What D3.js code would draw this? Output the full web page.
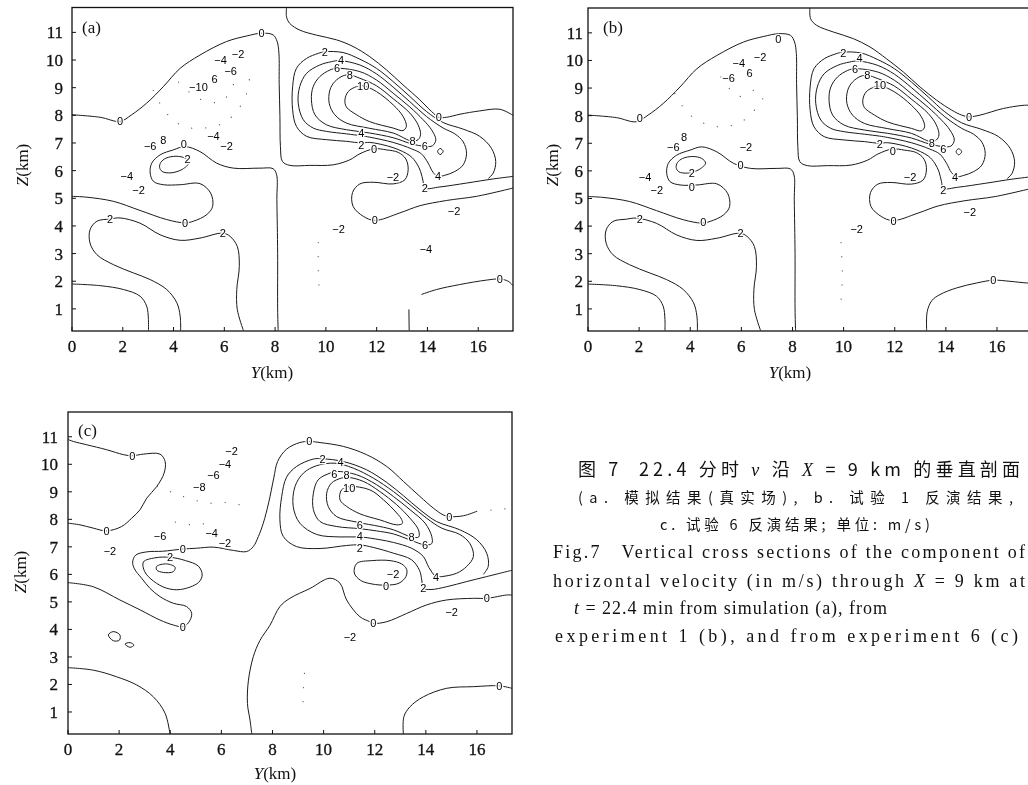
<!DOCTYPE html>
<html>
<head>
<meta charset="utf-8">
<script src="https://cdn.jsdelivr.net/npm/d3@7"></script>
<style>
  body { margin: 0; background: #fff; }
  svg { display: block; will-change: transform; }
  .tick { font-family: "Liberation Serif", serif; font-size: 17px; fill: #111; stroke: #111; stroke-width: 0.3; }
  .ttl { font-family: "Liberation Serif", serif; font-size: 17px; fill: #111; }
  .clab { font-family: "Liberation Sans Narrow", "Liberation Sans", sans-serif; font-size: 11px; fill: #000; }
</style>
</head>
<body>
<svg id="fig" width="1028" height="785"></svg>
<script>
// axes (km)
var yDomain = [0, 17.37];
var zDomain = [0.2, 11.9];
var yTicks = [0, 2, 4, 6, 8, 10, 12, 14, 16];
var zTicks = [1, 2, 3, 4, 5, 6, 7, 8, 9, 10, 11];

// ---- panel (a): contour lines as [Y, Z] in km ----
var a0left = [[0,8.02],[1.11,7.93],[1.89,7.78],[2.35,8.02],[2.94,8.44],[3.6,9.04],[4.26,9.7],[5.04,10.18],[6.09,10.67],[6.88,10.87],[7.47,10.97],[7.92,10.91],[8.08,10.67],[8.15,10.25],[8.16,9.16],[8.19,7.96],[8.21,6.87],[8.29,6.33],[8.58,6.19],[9.37,6.19],[10.29,6.21],[10.94,6.39],[11.34,6.61],[11.9,6.79],[12.39,6.75],[12.85,6.66],[13.15,6.42],[13.24,6.03],[13.11,5.67],[12.65,5.52],[11.86,5.58],[11.34,5.52],[11.05,5.21],[11.07,4.71],[11.47,4.35],[11.93,4.2],[12.91,4.47],[13.7,4.73],[14.75,4.92],[15.93,5.07],[17.37,5.37]];
var a0top = [[8.45,11.9],[8.45,11.56],[8.58,11.32],[8.98,11.08],[9.63,10.9],[10.42,10.73],[11.07,10.49],[11.73,10.12],[12.39,9.64],[13.04,9.1],[13.7,8.56],[14.16,8.14],[14.45,7.93],[14.75,7.93],[15.28,8.04],[16.06,8.16],[16.85,8.22],[17.37,8.0]];
var a0blob = [[0,5.07],[0.58,5.04],[1.63,4.89],[2.68,4.56],[3.73,4.23],[4.45,4.11],[4.78,4.17],[5.31,4.41],[5.54,4.71],[5.46,5.19],[5.04,5.53],[4.26,5.49],[3.6,5.49],[3.21,5.61],[3.08,5.91],[3.14,6.27],[3.47,6.57],[3.99,6.75],[4.45,6.87],[5.04,6.69],[5.7,6.27],[6.36,6.09],[7.4,6.09],[7.92,6.07],[8.06,5.85],[8.07,4.95],[8.1,3.0],[8.1,1.0],[8.12,0.22]];
var a2core = [[17.37,5.79],[16.59,5.7],[15.54,5.55],[14.49,5.41],[13.9,5.37],[13.83,5.61],[13.73,5.97],[13.57,6.27],[13.31,6.54],[12.65,6.83],[11.73,7.02],[11.4,7.0],[10.81,7.06],[10.02,7.12],[9.24,7.24],[8.84,7.6],[8.69,8.2],[8.69,9.04],[8.84,9.7],[9.24,10.06],[9.7,10.24],[9.96,10.3],[10.68,10.27],[11.34,10.03],[11.99,9.7],[12.65,9.22],[13.31,8.68],[13.96,8.14],[14.62,7.74],[15.41,7.5],[16.06,7.24],[16.52,6.81],[16.69,6.33],[16.59,5.91],[16.4,5.72]];
var a4core = [[10.55,9.98],[11.34,9.82],[11.99,9.5],[12.65,9.02],[13.31,8.49],[13.96,7.96],[14.62,7.54],[15.08,7.33],[15.41,7.04],[15.54,6.63],[15.41,6.21],[15.08,5.97],[14.68,5.83],[14.42,5.79],[14.22,5.94],[14.03,6.27],[13.76,6.61],[13.37,6.79],[12.65,7.02],[11.73,7.21],[11.4,7.26],[10.81,7.33],[10.02,7.42],[9.5,7.54],[9.11,7.84],[8.91,8.44],[8.97,9.04],[9.24,9.52],[9.76,9.82],[10.22,9.94]];
var a6core = [[10.44,9.7],[11.34,9.58],[11.99,9.28],[12.65,8.8],[13.31,8.3],[13.83,7.84],[14.16,7.48],[14.33,7.12],[14.2,6.9],[13.9,6.88],[13.37,6.97],[12.65,7.19],[11.73,7.36],[10.81,7.48],[10.02,7.66],[9.57,8.02],[9.43,8.56],[9.5,9.04],[9.76,9.4],[10.16,9.64]];
var a8core = [[10.68,9.43],[10.94,9.46],[11.34,9.34],[11.99,9.07],[12.65,8.6],[13.31,8.08],[13.63,7.66],[13.73,7.3],[13.63,7.12],[13.41,7.06],[12.65,7.36],[11.73,7.53],[10.81,7.72],[10.35,8.02],[10.13,8.44],[10.16,8.92],[10.35,9.22]];
var a10core = [[11.21,9.04],[11.47,9.07],[11.99,8.86],[12.65,8.38],[13.04,7.96],[13.17,7.6],[13.04,7.45],[12.65,7.54],[11.73,7.77],[11.21,8.02],[10.81,8.3],[10.75,8.56],[10.88,8.86]];
var a6spot = [[14.4,6.7],[14.5,6.8],[14.62,6.7],[14.5,6.58]];
var a2blob = [[3.5,6.3],[3.7,6.45],[4.1,6.52],[4.45,6.45],[4.6,6.28],[4.35,6.05],[3.9,5.92],[3.55,5.97],[3.45,6.12]];
var a2low = [[4.28,0.22],[4.26,0.74],[4.13,1.22],[3.73,1.7],[3.08,2.06],[2.42,2.3],[1.63,2.6],[0.98,2.96],[0.71,3.38],[0.71,3.86],[0.98,4.17],[1.5,4.25],[1.89,4.29],[2.68,4.1],[3.47,3.68],[4.26,3.48],[5.04,3.56],[5.94,3.74],[6.23,3.62],[6.51,3.26],[6.59,2.54],[6.49,1.7],[6.51,0.98],[6.75,0.22]];
var a4low = [[0,1.9],[1.11,1.84],[2.03,1.7],[2.68,1.46],[2.94,1.1],[3.01,0.62],[3.01,0.22]];
var a0right = [[13.76,1.52],[14.36,1.7],[15.27,1.88],[16.32,2.04],[16.85,2.08],[17.18,2.0],[17.37,1.84]];
var a0stub = [[13.27,0.98],[13.28,0.22]];
var aDots = [
  [[3.2,8.9],[3.7,8.1],[4.4,7.6],[5.3,7.55],[6.1,7.8],[6.8,8.6],[7.0,9.4]],
  [[4.2,9.2],[5.0,8.6],[5.9,8.5],[6.4,9.2]],
  [[9.7,3.4],[9.7,2.4],[9.75,1.5]]
];
var aLabels = [
  [1.89,7.78,"0"],[7.47,10.97,"0"],[14.45,7.93,"0"],[11.9,6.79,"0"],[11.93,4.2,"0"],[4.45,4.11,"0"],[16.85,2.08,"0"],[4.4,6.95,"0"],
  [1.5,4.25,"2"],[5.94,3.74,"2"],[4.55,6.42,"2"],[9.96,10.3,"2"],[11.4,6.92,"2"],[13.9,5.37,"2"],
  [10.6,10.0,"4"],[11.4,7.37,"4"],[14.42,5.79,"4"],
  [10.44,9.7,"6"],[13.9,6.88,"6"],
  [10.94,9.46,"8"],[13.41,7.06,"8"],
  [11.47,9.07,"10"],
  [6.54,10.2,"−2"],[5.85,10.0,"−4"],[6.25,9.62,"−6"],[5.62,9.3,"6"],[4.98,9.02,"−10"],
  [3.08,6.88,"−6"],[3.6,7.12,"8"],[5.57,7.24,"−4"],[6.09,6.88,"−2"],
  [2.16,5.82,"−4"],[2.62,5.31,"−2"],[12.64,5.78,"−2"],[10.5,3.88,"−2"],[13.94,3.18,"−4"],[15.05,4.55,"−2"]
];

// ---- panel (b) ----
var b0top = [[8.68,11.9],[8.71,11.51],[8.95,11.27],[9.6,11.03],[10.38,10.79],[11.03,10.49],[11.68,10.06],[12.34,9.58],[12.99,9.04],[13.64,8.56],[14.23,8.2],[14.62,8.02],[14.91,7.96],[15.34,8.02],[16.25,8.26],[17.16,8.38],[17.37,8.35]];
var b0right = [[13.25,0.22],[13.27,0.9],[13.45,1.3],[13.77,1.52],[14.42,1.76],[15.21,1.94],[15.86,2.04],[16.51,2.0],[17.16,1.94],[17.37,1.94]];
var bDots = [
  [[3.4,8.8],[3.9,8.1],[4.6,7.7],[5.4,7.6],[6.2,7.9],[6.9,8.7]],
  [[5.2,9.4],[5.9,8.7],[6.6,9.0]],
  [[9.9,3.4],[9.95,2.2],[9.9,1.3]]
];
var bLabels = [
  [2.03,7.9,"0"],[7.45,10.79,"0"],[14.91,7.96,"0"],[11.92,6.73,"0"],[11.95,4.2,"0"],[4.51,4.13,"0"],[15.86,2.04,"0"],[5.97,6.21,"0"],[4.06,5.42,"0"],
  [2.03,4.25,"2"],[5.97,3.74,"2"],[4.06,5.93,"2"],[9.99,10.26,"2"],[11.42,6.97,"2"],[13.9,5.31,"2"],
  [10.62,10.07,"4"],[14.36,5.79,"4"],
  [10.45,9.68,"6"],[13.9,6.79,"6"],
  [10.93,9.48,"8"],[13.45,7.02,"8"],
  [11.42,9.1,"10"],
  [6.73,10.12,"−2"],[5.9,9.92,"−4"],[6.32,9.54,"6"],[5.5,9.35,"−6"],
  [3.34,6.88,"−6"],[3.76,7.21,"8"],[6.18,6.88,"−2"],
  [2.23,5.77,"−4"],[2.69,5.29,"−2"],[12.6,5.76,"−2"],[10.51,3.89,"−2"],[14.94,4.5,"−2"]
];

// ---- panel (c) ----
var c0upper = [[0,10.9],[0.21,10.83],[0.73,10.71],[1.51,10.53],[2.17,10.35],[2.52,10.31],[2.95,10.37],[3.6,10.37],[3.8,10.1],[3.76,9.68],[3.47,9.19],[3.08,8.77],[2.82,8.35],[2.49,8.04],[2.1,7.74],[1.51,7.58],[0.99,7.68],[0.47,7.8],[0,7.86]];
var c0main = [[0,5.7],[0.99,5.55],[2.03,5.07],[2.82,4.71],[3.6,4.34],[4.12,4.16],[4.49,4.1],[4.71,4.24],[4.84,4.58],[4.64,4.83],[4.12,4.95],[3.6,5.19],[3.21,5.49],[2.88,5.86],[2.6,6.2],[2.53,6.45],[2.65,6.7],[3.1,6.82],[3.7,6.84],[4.49,6.92],[5.03,6.95],[5.69,6.99],[6.47,6.87],[6.99,6.83],[7.25,7.01],[7.45,7.38],[7.64,7.86],[7.85,8.6],[8.05,9.5],[8.2,10.1],[8.55,10.55],[9.07,10.79],[9.44,10.83],[9.86,10.79],[10.77,10.65],[11.68,10.35],[12.47,9.92],[13.12,9.38],[13.77,8.83],[14.29,8.41],[14.68,8.16],[14.92,8.1],[15.47,8.13],[15.99,8.29]];
var c0low = [[7.19,0.2],[7.12,0.71],[7.02,1.31],[7.06,2.16],[7.25,3.01],[7.51,3.6],[7.9,4.15],[8.29,4.83],[8.68,5.13],[9.47,5.49],[10.25,5.86],[10.64,5.68],[10.9,5.07],[11.42,4.46],[11.81,4.28],[11.94,4.22],[12.47,4.28],[13.25,4.58],[14.03,4.89],[14.81,5.07],[15.86,5.13],[16.38,5.13],[17.16,5.25],[17.37,5.25]];
var c0pocket = [[11.3,6.4],[11.2,6.05],[11.45,5.78],[11.9,5.65],[12.44,5.61],[12.95,5.68],[13.22,5.92],[13.25,6.18],[13.05,6.38],[12.6,6.5],[11.9,6.5]];
var c2core = [[17.37,6.15],[16.38,5.92],[15.6,5.74],[14.81,5.55],[14.2,5.45],[13.9,5.5],[13.84,5.8],[13.75,6.15],[13.44,6.53],[12.73,6.77],[11.94,6.98],[11.42,7.07],[10.9,7.05],[9.86,6.94],[8.94,7.01],[8.42,7.38],[8.29,7.98],[8.36,8.83],[8.55,9.53],[8.94,9.92],[9.6,10.19],[9.96,10.2],[10.77,10.1],[11.68,9.8],[12.47,9.34],[13.12,8.86],[13.77,8.35],[14.42,7.92],[15.33,7.62],[15.99,7.26],[16.38,6.77],[16.44,6.29],[16.25,6.0]];
var c4core = [[10.44,10.04],[11.16,9.86],[11.94,9.5],[12.73,9.01],[13.38,8.53],[14.03,8.04],[14.62,7.68],[15.33,7.45],[15.73,7.11],[15.86,6.65],[15.6,6.29],[15.2,6.04],[14.62,5.92],[14.4,5.92],[14.12,6.25],[13.9,6.65],[13.44,6.95],[12.73,7.16],[12.2,7.26],[11.42,7.36],[10.64,7.36],[9.73,7.45],[9.07,7.86],[8.81,8.47],[8.88,9.19],[9.21,9.68],[9.73,9.95]];
var c6core = [[10.48,9.74],[11.29,9.62],[12.07,9.26],[12.73,8.83],[13.38,8.35],[13.97,7.86],[14.23,7.38],[14.23,7.12],[13.97,7.07],[13.44,7.23],[12.73,7.47],[12.07,7.58],[11.42,7.66],[10.51,7.74],[9.86,7.92],[9.6,8.35],[9.6,8.95],[9.79,9.44],[10.25,9.68]];
var c8core = [[10.93,9.53],[11.55,9.38],[12.2,9.01],[12.86,8.53],[13.38,8.04],[13.71,7.62],[13.72,7.36],[13.44,7.36],[12.73,7.62],[12.2,7.74],[11.29,7.9],[10.51,8.1],[10.18,8.47],[10.12,8.95],[10.31,9.32],[10.7,9.5]];
var c10core = [[11.0,9.19],[11.81,9.07],[12.34,8.71],[12.86,8.23],[13.05,8.0],[13.08,7.85],[12.86,7.8],[12.2,7.98],[11.42,8.2],[10.9,8.47],[10.64,8.71],[10.7,9.07]];
var c2blob = [[2.95,6.45],[3.4,6.6],[4.0,6.62],[4.6,6.5],[5.1,6.3],[5.25,5.98],[5.1,5.7],[4.4,5.45],[3.85,5.5],[3.35,5.75],[3.0,6.1]];
var c4blob = [[3.47,6.29],[3.86,6.38],[4.19,6.26],[4.12,6.1],[3.73,6.07],[3.47,6.16]];
var cRing1 = [[1.58,3.8],[1.77,3.92],[2.03,3.8],[2.01,3.61],[1.77,3.59]];
var cRing2 = [[2.23,3.47],[2.43,3.52],[2.58,3.43],[2.43,3.35]];
var c2low = [[0,2.61],[0.99,2.52],[1.9,2.28],[2.69,1.98],[3.34,1.55],[3.8,0.95],[3.99,0.2]];
var c0right = [[13.12,0.2],[13.14,0.83],[13.38,1.19],[13.9,1.55],[14.81,1.86],[15.86,1.92],[16.87,1.95],[17.37,1.86]];
var cDots = [
  [[15.99,8.29],[16.7,8.35],[17.37,8.4]],
  [[9.25,2.4],[9.2,1.6],[9.2,0.95]],
  [[3.5,9.2],[4.3,8.9],[5.4,8.6],[6.4,8.6],[7.1,8.4]],
  [[4.2,7.9],[4.9,7.8],[5.7,7.9]]
];
var cLabels = [
  [2.52,10.31,"0"],[1.51,7.58,"0"],[4.49,6.92,"0"],[4.49,4.1,"0"],[9.44,10.83,"0"],[14.92,8.1,"0"],[12.44,5.57,"0"],[11.94,4.22,"0"],[16.38,5.13,"0"],[16.87,1.95,"0"],
  [9.96,10.2,"2"],[11.42,6.97,"2"],[13.9,5.5,"2"],[3.99,6.62,"2"],
  [10.66,10.07,"4"],[11.42,7.38,"4"],[14.4,5.9,"4"],
  [10.42,9.65,"6"],[11.42,7.79,"6"],[13.97,7.07,"6"],
  [10.9,9.6,"8"],[13.44,7.34,"8"],
  [11.0,9.12,"10"],
  [6.4,10.49,"−2"],[6.14,7.13,"−2"],[1.64,6.86,"−2"],[12.72,6.03,"−2"],[15.01,4.64,"−2"],[11.03,3.74,"−2"],
  [6.14,10.02,"−4"],[5.62,7.5,"−4"],[5.69,9.62,"−6"],[3.6,7.38,"−6"],[5.14,9.19,"−8"]
];

var aLines = [
  {p: a0left}, {p: a0top}, {p: a0blob}, {p: a2core}, {p: a4core, closed: true}, {p: a6core, closed: true},
  {p: a8core, closed: true}, {p: a10core, closed: true}, {p: a6spot, closed: true}, {p: a2blob, closed: true},
  {p: a2low}, {p: a4low}, {p: a0right}, {p: a0stub}
];
var bLines = [
  {p: a0left}, {p: b0top}, {p: a0blob}, {p: a2core}, {p: a4core, closed: true}, {p: a6core, closed: true},
  {p: a8core, closed: true}, {p: a10core, closed: true}, {p: a6spot, closed: true}, {p: a2blob, closed: true},
  {p: a2low}, {p: a4low}, {p: b0right}
];
var cLines = [
  {p: c0upper}, {p: c0main}, {p: c0low}, {p: c0pocket, closed: true}, {p: c2core}, {p: c4core, closed: true},
  {p: c6core, closed: true}, {p: c8core, closed: true}, {p: c10core, closed: true}, {p: c2blob, closed: true},
  {p: c4blob, closed: true}, {p: cRing1, closed: true}, {p: cRing2, closed: true}, {p: c2low}, {p: c0right}
];

// layout of the three frames on the page
var panels = [
  {key: "a", tag: "(a)", lines: aLines, labels: aLabels, dots: aDots, left: 72, right: 513, top: 7.5, bottom: 331, zgap: 9, tagX: 82, tagY: 33, yLabX: 272, yLabY: 378, zLabX: 22, zLabY: 165},
  {key: "b", tag: "(b)", lines: bLines, labels: bLabels, dots: bDots, left: 588, right: 1032, top: 8, bottom: 331, zgap: 5, tagX: 603, tagY: 33, yLabX: 790, yLabY: 378, zLabX: 552, zLabY: 165},
  {key: "c", tag: "(c)", lines: cLines, labels: cLabels, dots: cDots, left: 68, right: 512, top: 412, bottom: 734, zgap: 10, tagX: 78, tagY: 436, yLabX: 275, yLabY: 779, zLabX: 20, zLabY: 572}
];

var svg = d3.select("#fig");
var defs = svg.append("defs");

panels.forEach(function (P) {
  var x = d3.scaleLinear().domain(yDomain).range([P.left, P.right]);
  var z = d3.scaleLinear().domain(zDomain).range([P.bottom, P.top]);

  defs.append("clipPath").attr("id", "clip-" + P.key)
    .append("rect")
    .attr("x", P.left).attr("y", P.top)
    .attr("width", P.right - P.left).attr("height", P.bottom - P.top);

  var g = svg.append("g");
  var body = g.append("g").attr("clip-path", "url(#clip-" + P.key + ")");

  var openLine = d3.line().x(function (d) { return x(d[0]); }).y(function (d) { return z(d[1]); })
    .curve(d3.curveCatmullRom.alpha(0.5));
  var closedLine = d3.line().x(function (d) { return x(d[0]); }).y(function (d) { return z(d[1]); })
    .curve(d3.curveCatmullRomClosed.alpha(0.5));

  // negative contours are printed as sparse dots
  body.selectAll(".dots")
    .data(P.dots)
    .enter()
    .append("path")
    .attr("class", "dots")
    .attr("d", openLine)
    .attr("fill", "none")
    .attr("stroke", "#555")
    .attr("stroke-width", 1.2)
    .attr("stroke-linecap", "round")
    .attr("stroke-dasharray", "0.1 14");

  body.selectAll(".cont")
    .data(P.lines)
    .enter()
    .append("path")
    .attr("class", "cont")
    .attr("d", function (d) { return d.closed ? closedLine(d.p) : openLine(d.p); })
    .attr("fill", "none")
    .attr("stroke", "#1a1a1a")
    .attr("stroke-width", 1);

  // contour values, with a white halo to break the line
  body.selectAll(".clab")
    .data(P.labels)
    .enter()
    .append("text")
    .attr("class", "clab")
    .attr("x", function (d) { return x(d[0]); })
    .attr("y", function (d) { return z(d[1]); })
    .attr("dy", "0.36em")
    .attr("text-anchor", "middle")
    .attr("stroke", "#fff")
    .attr("stroke-width", 2.5)
    .style("paint-order", "stroke")
    .text(function (d) { return d[2]; });

  // frame
  g.append("rect")
    .attr("x", P.left).attr("y", P.top)
    .attr("width", P.right - P.left).attr("height", P.bottom - P.top)
    .attr("fill", "none").attr("stroke", "#111").attr("stroke-width", 1.3);

  // ticks
  g.selectAll(".yt").data(yTicks).enter().append("line")
    .attr("x1", function (d) { return x(d); }).attr("x2", function (d) { return x(d); })
    .attr("y1", P.bottom).attr("y2", P.bottom - 4)
    .attr("stroke", "#111");
  g.selectAll(".zt").data(zTicks).enter().append("line")
    .attr("y1", function (d) { return z(d); }).attr("y2", function (d) { return z(d); })
    .attr("x1", P.left).attr("x2", P.left + 4)
    .attr("stroke", "#111");

  g.selectAll(".ytl").data(yTicks).enter().append("text")
    .attr("class", "tick")
    .attr("x", function (d) { return x(d); })
    .attr("y", P.bottom + 21)
    .attr("text-anchor", "middle")
    .text(function (d) { return d; });
  g.selectAll(".ztl").data(zTicks).enter().append("text")
    .attr("class", "tick")
    .attr("x", P.left - P.zgap)
    .attr("y", function (d) { return z(d); })
    .attr("dy", "0.35em")
    .attr("text-anchor", "end")
    .text(function (d) { return d; });

  // panel tag
  g.append("text").attr("class", "ttl").attr("x", P.tagX).attr("y", P.tagY).text(P.tag);

  // axis titles
  var yl = g.append("text").attr("class", "ttl").attr("x", P.yLabX).attr("y", P.yLabY).attr("text-anchor", "middle");
  yl.append("tspan").style("font-style", "italic").text("Y");
  yl.append("tspan").text("(km)");
  var zl = g.append("text").attr("class", "ttl")
    .attr("transform", "translate(" + P.zLabX + "," + P.zLabY + ") rotate(-90)")
    .attr("text-anchor", "middle").attr("dy", "0.35em");
  zl.append("tspan").style("font-style", "italic").text("Z");
  zl.append("tspan").text("(km)");
});

// caption block (widths follow the loosely set print)
var capLines = [
  {x: 578, y: 476, w: 442, size: 18, font: "cjk", parts: [["图 7  22.4 分时 ", 0], ["v", 1], [" 沿 ", 0], ["X", 1], [" = 9 km 的垂直剖面", 0]]},
  {x: 578, y: 503, w: 435, size: 14.5, font: "cjk", parts: [["(a. 模拟结果(真实场), b. 试验 1 反演结果,", 0]]},
  {x: 660, y: 530, w: 270, size: 14.5, font: "cjk", parts: [["c. 试验 6 反演结果; 单位: m/s)", 0]]},
  {x: 553, y: 558, w: 472, size: 18, font: "serif", parts: [["Fig.7   Vertical cross sections of the component of", 0]]},
  {x: 553, y: 587, w: 472, size: 18, font: "serif", parts: [["horizontal velocity (in m/s) through ", 0], ["X", 1], [" = 9 km at", 0]]},
  {x: 574, y: 614, w: 313, size: 18, font: "serif", parts: [["t", 1], [" = 22.4 min from simulation (a), from", 0]]},
  {x: 555, y: 642, w: 463, size: 18, font: "serif", parts: [["experiment 1 (b), and from experiment 6 (c)", 0]]}
];
capLines.forEach(function (c) {
  var t = svg.append("text")
    .attr("x", c.x).attr("y", c.y)
    .attr("font-size", c.size)
    .attr("fill", "#111")
    .attr("font-family", c.font === "cjk" ? "'Noto Sans CJK SC', sans-serif" : "'Liberation Serif', serif")
    .attr("textLength", c.w)
    .attr("lengthAdjust", "spacing")
    .style("white-space", "pre")
    .attr("xml:space", "preserve");
  c.parts.forEach(function (p) {
    t.append("tspan")
      .style("font-style", p[1] ? "italic" : "normal")
      .style("font-family", p[1] ? "'Liberation Serif', serif" : null)
      .text(p[0]);
  });
});
</script>
</body>
</html>
